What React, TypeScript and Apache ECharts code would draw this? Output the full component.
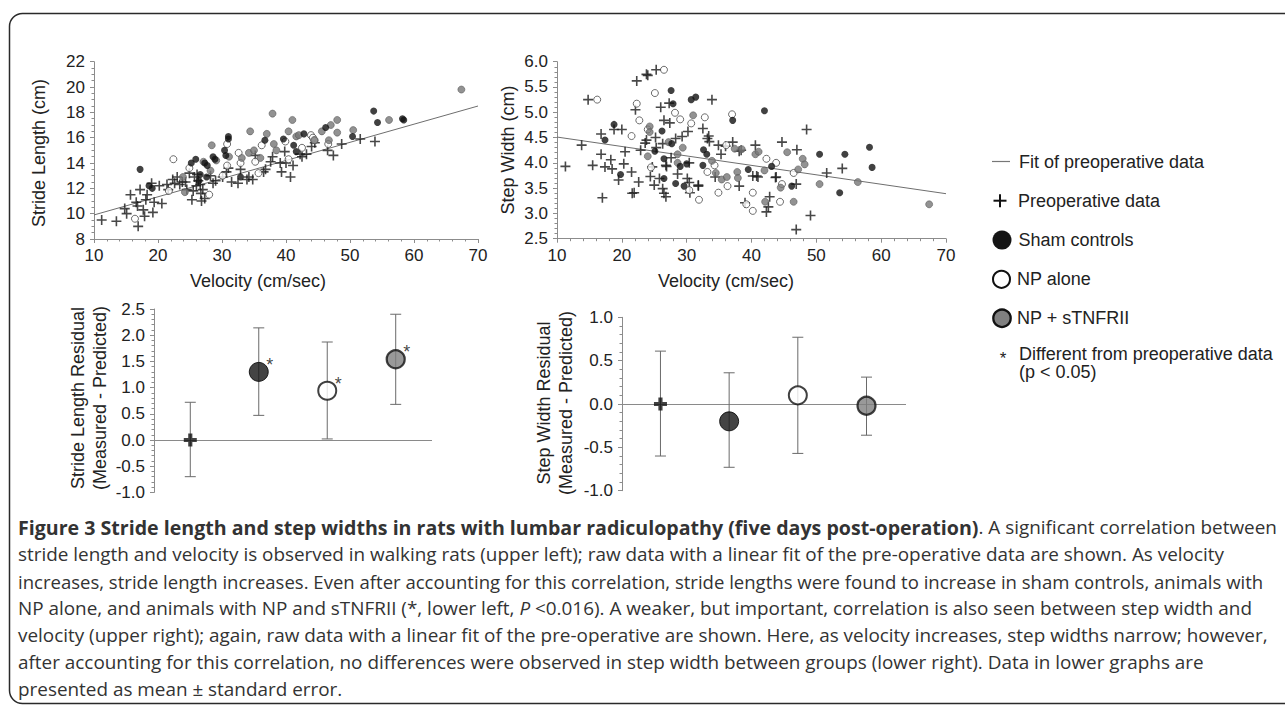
import React, { useEffect, useRef } from "react";
import * as echarts from "echarts";

// ---------- DATA ----------
// Upper left: stride length (cm) vs velocity (cm/sec)
const strideFitVelocity = [10, 70];
const strideFitValues = [9.9, 18.5];
const stridePreop: number[][] = [
  [11.2, 9.5], [13.5, 9.4], [14.8, 10.4], [15.1, 10.0], [15.7, 11.5], [16.6, 10.9], [16.8, 10.6], [16.9, 9.0],
  [17.2, 11.9], [17.7, 10.3], [17.9, 9.8], [18.1, 11.1], [18.3, 11.5], [19.0, 12.4], [19.2, 10.1], [19.4, 10.9],
  [20.2, 12.2], [20.6, 10.8], [21.4, 12.3], [21.6, 11.9], [22.3, 12.7], [22.6, 12.4], [23.0, 12.9], [23.4, 12.3],
  [23.8, 12.5], [24.3, 12.5], [24.5, 11.9], [24.9, 13.2], [25.3, 11.1], [25.5, 11.8], [25.7, 12.9], [26.0, 12.2],
  [26.1, 13.1], [26.3, 12.6], [26.6, 12.3], [26.7, 11.6], [26.8, 11.0], [27.0, 11.9], [27.3, 11.2], [28.2, 13.0],
  [28.6, 12.4], [29.0, 12.6], [30.1, 12.9], [30.7, 13.3], [31.0, 13.6], [31.5, 12.5], [32.5, 12.4], [32.9, 13.5],
  [33.9, 12.7], [34.2, 12.9], [34.8, 12.7], [35.2, 14.6], [36.5, 13.3], [36.8, 13.5], [37.6, 14.1], [37.9, 14.5],
  [39.1, 14.0], [39.3, 13.3], [39.8, 14.9], [40.0, 14.0], [40.7, 12.9], [41.1, 13.8], [42.2, 14.7], [42.5, 14.5],
  [43.2, 14.7], [44.0, 15.3], [44.5, 15.6], [46.5, 15.0], [47.4, 14.6], [48.7, 15.5], [51.6, 15.9], [53.9, 15.7],
];
const strideSham: number[][] = [
  [17.2, 13.5], [18.6, 12.2], [19.1, 12.0], [25.2, 14.0], [25.9, 14.3], [26.4, 12.6], [26.6, 13.1], [27.3, 14.0],
  [27.7, 13.8], [27.6, 12.9], [28.6, 14.5], [28.9, 14.3], [30.4, 15.0], [30.6, 14.6], [31.0, 16.1], [31.0, 15.9],
  [32.9, 12.9], [36.7, 15.8], [39.6, 15.9], [41.2, 15.4], [41.6, 14.9], [42.8, 16.3], [46.2, 16.8], [50.4, 16.1],
  [53.7, 18.1], [54.3, 17.2], [58.2, 17.5], [58.4, 17.4],
];
const strideNP: number[][] = [
  [16.4, 9.6], [21.7, 11.8], [22.4, 14.3], [24.9, 13.6], [28.0, 11.5], [30.1, 13.0], [30.8, 15.5], [30.8, 13.8],
  [32.6, 14.8], [32.9, 14.0], [35.2, 14.1], [35.7, 13.2], [36.2, 15.4], [39.9, 15.7], [40.4, 14.3], [42.5, 15.2],
  [43.9, 16.2], [44.2, 16.0], [44.4, 15.8], [46.6, 15.5],
];
const strideNPs: number[][] = [
  [23.9, 12.9], [24.2, 11.7], [27.1, 14.1], [28.2, 13.4], [28.4, 15.4], [29.1, 14.2], [31.1, 14.5], [33.1, 14.4],
  [34.4, 16.5], [34.2, 14.8], [35.0, 15.0], [36.0, 14.4], [37.0, 16.3], [37.9, 17.9], [38.1, 15.5], [38.5, 15.0],
  [40.4, 16.5], [41.0, 17.4], [41.6, 16.1], [42.0, 16.2], [44.5, 15.8], [45.6, 16.5], [46.7, 15.8], [47.0, 17.0],
  [48.0, 17.4], [48.0, 16.4], [50.5, 16.6], [56.1, 17.4], [67.4, 19.8],
];

// Upper right: step width (cm) vs velocity (cm/sec)
const widthFitValues = [4.51, 3.39];
const widthPreop: number[][] = [
  [11.3, 3.93], [13.8, 4.35], [14.8, 5.25], [15.5, 3.95], [16.8, 4.57], [16.8, 4.17], [17.0, 3.31], [17.4, 3.92],
  [18.3, 4.06], [18.5, 3.88], [18.8, 4.66], [19.5, 3.66], [20.0, 4.66], [20.3, 3.98], [20.5, 4.22], [21.5, 3.82],
  [21.6, 3.40], [21.9, 3.41], [22.1, 5.05], [22.3, 5.62], [22.6, 3.62], [22.9, 4.25], [23.6, 4.39], [23.8, 5.75],
  [23.8, 4.45], [24.0, 5.73], [24.4, 3.73], [24.7, 3.92], [25.0, 3.56], [25.2, 4.50], [25.3, 5.84], [25.3, 4.30],
  [25.8, 3.69], [26.0, 5.10], [26.3, 3.49], [26.3, 4.38], [26.5, 4.84], [26.5, 3.40], [26.8, 3.33], [26.8, 3.95],
  [26.9, 3.93], [27.3, 5.18], [27.4, 4.79], [27.6, 4.10], [28.3, 4.48], [28.6, 3.78], [29.3, 4.52], [30.1, 3.69],
  [30.2, 4.62], [30.4, 4.00], [30.4, 3.61], [30.5, 3.41], [31.8, 3.54], [31.8, 3.56], [32.5, 4.68], [33.2, 4.48],
  [33.4, 4.53], [33.5, 4.42], [33.9, 5.25], [34.4, 3.72], [34.9, 4.35], [35.3, 4.17], [36.0, 4.33], [37.1, 4.41],
  [38.1, 3.54], [38.1, 4.23], [38.4, 4.25], [39.0, 3.21], [40.2, 3.74], [40.6, 4.35], [40.8, 3.74], [41.0, 3.72],
  [42.3, 3.03], [42.6, 3.13], [42.8, 3.33], [43.7, 3.71], [43.8, 3.72], [44.7, 4.41], [46.9, 3.58], [46.9, 2.68],
  [47.0, 4.26], [48.5, 4.66], [49.1, 2.96], [51.6, 3.80], [54.0, 3.89],
];
const widthSham: number[][] = [
  [17.4, 4.45], [18.8, 4.76], [19.8, 3.77], [25.1, 4.23], [26.2, 4.63], [26.5, 4.08], [26.5, 3.69], [27.6, 5.43],
  [27.7, 4.38], [27.9, 5.17], [28.3, 3.59], [29.0, 3.93], [29.6, 3.54], [30.0, 3.98], [30.7, 5.25], [31.4, 5.30],
  [32.5, 3.95], [32.6, 4.26], [33.1, 4.17], [37.1, 4.84], [39.5, 3.87], [42.0, 5.03], [43.1, 3.93], [46.2, 3.54],
  [50.5, 4.17], [53.6, 3.41], [54.4, 4.17], [58.2, 4.31], [58.6, 3.91],
];
const widthNP: number[][] = [
  [16.2, 5.25], [21.5, 4.53], [22.3, 5.17], [22.7, 4.84], [24.0, 4.66], [24.5, 3.91], [25.1, 5.38], [26.5, 5.84],
  [28.2, 4.99], [29.0, 4.86], [30.4, 3.46], [30.7, 4.78], [31.9, 3.27], [32.8, 4.90], [33.2, 3.82], [34.3, 3.95],
  [34.9, 3.41], [36.1, 4.35], [36.3, 3.54], [37.0, 4.96], [39.2, 3.18], [40.2, 3.41], [40.2, 3.05], [42.3, 4.08],
  [43.8, 4.00], [44.4, 3.23], [44.7, 3.58], [46.5, 3.80],
];
const widthNPs: number[][] = [
  [24.3, 4.72], [24.3, 4.61], [24.0, 4.13], [27.2, 4.41], [28.6, 4.17], [28.6, 4.00], [29.4, 4.30], [31.0, 4.94],
  [33.9, 4.04], [34.5, 3.80], [35.4, 3.67], [36.2, 3.72], [37.4, 4.28], [37.8, 3.82], [37.9, 3.70], [38.5, 4.27],
  [40.6, 4.17], [41.1, 4.22], [42.0, 3.85], [42.1, 3.23], [44.5, 3.51], [45.5, 4.21], [46.5, 3.23], [47.2, 3.87],
  [47.9, 4.08], [48.2, 3.97], [50.5, 3.58], [56.4, 3.62], [67.4, 3.18],
];

// Lower panels: residuals (measured - predicted), mean with error range
const groups = ["Preoperative data", "Sham controls", "NP alone", "NP + sTNFRII"];
const strideResMean = [0, 1.3, 0.94, 1.54];
const strideResLow = [-0.7, 0.47, 0.02, 0.68];
const strideResHigh = [0.72, 2.14, 1.87, 2.4];
const strideResSignificant = [false, true, true, true];
const widthResMean = [0, -0.2, 0.1, -0.02];
const widthResLow = [-0.6, -0.73, -0.57, -0.36];
const widthResHigh = [0.61, 0.36, 0.77, 0.31];

const captionLines = [
  "stride length and velocity is observed in walking rats (upper left); raw data with a linear fit of the pre-operative data are shown. As velocity",
  "increases, stride length increases. Even after accounting for this correlation, stride lengths were found to increase in sham controls, animals with",
  "NP alone, and animals with NP and sTNFRII (*, lower left, {i|P} <0.016). A weaker, but important, correlation is also seen between step width and",
  "velocity (upper right); again, raw data with a linear fit of the pre-operative are shown. Here, as velocity increases, step widths narrow; however,",
  "after accounting for this correlation, no differences were observed in step width between groups (lower right). Data in lower graphs are",
  "presented as mean \u00b1 standard error.",
];
const captionLineSizes = [18.9, 18.55, 18.9, 18.9, 18.9, 18.9];

// ---------- STYLE ----------
const FONT = "'Liberation Sans', Arial, Helvetica, sans-serif";
const CAP_FONT = "'Open Sans', 'Noto Sans', sans-serif";
const AXIS_COLOR = "#8c8c8c";
const TEXT_COLOR = "#222";
const PLUS_THIN = "path://M4.2,0H5.8V4.2H10V5.8H5.8V10H4.2V5.8H0V4.2H4.2Z";
const PLUS_THICK = "path://M3.4,0H6.6V3.4H10V6.6H6.6V10H3.4V6.6H0V3.4H3.4Z";
const CAP_SIZE = 18.9;

const markerStyles = [
  { symbol: PLUS_THICK, symbolSize: 13, itemStyle: { color: "#111" } },
  { symbol: "circle", symbolSize: 19, itemStyle: { color: "#151515", borderColor: "#000", borderWidth: 1 } },
  { symbol: "circle", symbolSize: 18, itemStyle: { color: "#fff", borderColor: "#111", borderWidth: 2 } },
  { symbol: "circle", symbolSize: 18, itemStyle: { color: "#808080", borderColor: "#111", borderWidth: 2.2 } },
];

function valueAxis(grid: number, min: number, max: number, interval: number, minorSplit: number, digits: number, isX: boolean) {
  return {
    gridIndex: grid,
    type: "value",
    min,
    max,
    interval,
    axisLine: { show: true, onZero: false, lineStyle: { color: AXIS_COLOR, width: 1 } },
    axisTick: { show: true, length: 4, lineStyle: { color: AXIS_COLOR } },
    minorTick: { show: true, splitNumber: minorSplit, length: 2.5, lineStyle: { color: AXIS_COLOR } },
    splitLine: { show: false },
    axisLabel: {
      color: TEXT_COLOR,
      fontSize: 17,
      fontFamily: FONT,
      margin: isX ? 8 : 9,
      formatter: (v: number) => v.toFixed(digits),
    },
  };
}

function hiddenX(grid: number, min: number, max: number) {
  return { gridIndex: grid, type: "value", min, max, show: false, splitLine: { show: false } };
}

function scatterSeries(idx: number, data: number[][], kind: number) {
  const base: any = { type: "scatter", xAxisIndex: idx, yAxisIndex: idx, data, z: 3 };
  if (kind === 0) return { ...base, symbol: PLUS_THIN, symbolSize: 10, itemStyle: { color: "#1a1a1a" } };
  if (kind === 1) return { ...base, symbol: "circle", symbolSize: 7, itemStyle: { color: "#111" } };
  if (kind === 2)
    return { ...base, symbol: "circle", symbolSize: 7, itemStyle: { color: "#fff", borderColor: "#333", borderWidth: 0.9 } };
  return { ...base, symbol: "circle", symbolSize: 7, itemStyle: { color: "#777", borderColor: "#555", borderWidth: 0.7 } };
}

function fitSeries(idx: number, values: number[]) {
  return {
    type: "line",
    xAxisIndex: idx,
    yAxisIndex: idx,
    data: strideFitVelocity.map((v, i) => [v, values[i]]),
    symbol: "none",
    lineStyle: { color: "#6e6e6e", width: 1 },
    z: 2,
  };
}

function errorSeries(idx: number, low: number[], high: number[]) {
  return {
    type: "custom",
    xAxisIndex: idx,
    yAxisIndex: idx,
    z: 2,
    data: groups.map((_, i) => [i + 1, low[i], high[i]]),
    encode: { x: 0, y: [1, 2] },
    renderItem: (_params: any, api: any) => {
      const x = api.value(0);
      const lo = api.coord([x, api.value(1)]);
      const hi = api.coord([x, api.value(2)]);
      const w = 5.5;
      const style = { stroke: "#6a6a6a", lineWidth: 1 };
      return {
        type: "group",
        children: [
          { type: "line", shape: { x1: hi[0], y1: hi[1], x2: lo[0], y2: lo[1] }, style },
          { type: "line", shape: { x1: hi[0] - w, y1: hi[1], x2: hi[0] + w, y2: hi[1] }, style },
          { type: "line", shape: { x1: lo[0] - w, y1: lo[1], x2: lo[0] + w, y2: lo[1] }, style },
        ],
      };
    },
  };
}

function meanSeries(idx: number, means: number[], signif: boolean[] | null) {
  return {
    type: "scatter",
    xAxisIndex: idx,
    yAxisIndex: idx,
    z: 4,
    data: groups.map((g, i) => ({
      name: g,
      value: [i + 1, means[i]],
      ...markerStyles[i],
      label: signif && signif[i]
        ? { show: true, formatter: "*", position: "inside", offset: [11, -7], color: "#111", fontSize: 18, fontFamily: FONT }
        : { show: false },
    })),
    markLine: {
      silent: true,
      symbol: "none",
      label: { show: false },
      lineStyle: { color: "#8a8a8a", width: 1, type: "solid" },
      data: [{ yAxis: 0 }],
      z: 1,
    },
  };
}

function txt(x: number, y: number, text: string, opts: any = {}) {
  return {
    type: "text",
    x,
    y,
    rotation: opts.rotation || 0,
    style: {
      text,
      fill: opts.fill || TEXT_COLOR,
      font: opts.font || `18px ${FONT}`,
      textAlign: opts.align || "left",
      textVerticalAlign: "middle",
    },
  };
}

export default function App() {
  const ref = useRef<HTMLDivElement>(null);

  useEffect(() => {
    if (!ref.current) return;
    const chart = echarts.init(ref.current, undefined, { renderer: "svg" });
    const R = Math.PI / 2;
    const titleFont = `18px ${FONT}`;
    const capRich = (size: number) => ({
      b: { fontFamily: CAP_FONT, fontWeight: "bold", fontSize: 19.6, color: "#1b1b1b" },
      i: { fontFamily: CAP_FONT, fontStyle: "italic", fontSize: size, color: "#333" },
    });
    const capStart = 18;
    const capY0 = 527;
    const capStep = 27;

    const option: any = {
      animation: false,
      backgroundColor: "#fff",
      grid: [
        { left: 94, top: 61.7, width: 384, height: 177.3 },
        { left: 557, top: 61.7, width: 389, height: 177 },
        { left: 154, top: 309, width: 278, height: 183.4 },
        { left: 622, top: 317.3, width: 284, height: 173.4 },
      ],
      xAxis: [
        valueAxis(0, 10, 70, 10, 5, 0, true),
        valueAxis(1, 10, 70, 10, 5, 0, true),
        hiddenX(2, 0.47, 4.53),
        hiddenX(3, 0.44, 4.575),
      ],
      yAxis: [
        valueAxis(0, 8, 22, 2, 4, 0, false),
        valueAxis(1, 2.5, 6, 0.5, 5, 1, false),
        valueAxis(2, -1, 2.5, 0.5, 5, 1, false),
        valueAxis(3, -1, 1, 0.5, 5, 1, false),
      ],
      series: [
        fitSeries(0, strideFitValues),
        scatterSeries(0, stridePreop, 0),
        scatterSeries(0, strideNP, 2),
        scatterSeries(0, strideNPs, 3),
        scatterSeries(0, strideSham, 1),
        fitSeries(1, widthFitValues),
        scatterSeries(1, widthPreop, 0),
        scatterSeries(1, widthNP, 2),
        scatterSeries(1, widthNPs, 3),
        scatterSeries(1, widthSham, 1),
        errorSeries(2, strideResLow, strideResHigh),
        meanSeries(2, strideResMean, strideResSignificant),
        errorSeries(3, widthResLow, widthResHigh),
        meanSeries(3, widthResMean, null),
      ],
      graphic: [
        // frame
        {
          type: "rect",
          shape: { x: 9.5, y: 13.5, width: 1310, height: 690, r: 13 },
          style: { fill: "none", stroke: "#2a2a2a", lineWidth: 1.5 },
          z: -1,
        },
        // axis titles
        txt(38.5, 153, "Stride Length (cm)", { rotation: R, align: "center", font: titleFont }),
        txt(258, 281, "Velocity (cm/sec)", { align: "center", font: titleFont }),
        txt(508, 150, "Step Width (cm)", { rotation: R, align: "center", font: titleFont }),
        txt(726, 281, "Velocity (cm/sec)", { align: "center", font: titleFont }),
        txt(78, 398, "Stride Length Residual", { rotation: R, align: "center", font: titleFont }),
        txt(100, 398, "(Measured - Predicted)", { rotation: R, align: "center", font: titleFont }),
        txt(544, 403, "Step Width Residual", { rotation: R, align: "center", font: titleFont }),
        txt(566, 403, "(Measured - Predicted)", { rotation: R, align: "center", font: titleFont }),
        // legend
        { type: "line", shape: { x1: 992, y1: 161.5, x2: 1010, y2: 161.5 }, style: { stroke: "#777", lineWidth: 1.2 } },
        txt(1019, 161.5, "Fit of preoperative data"),
        { type: "rect", shape: { x: 993.5, y: 199.7, width: 13, height: 2 }, style: { fill: "#111" } },
        { type: "rect", shape: { x: 999, y: 194.2, width: 2, height: 13 }, style: { fill: "#111" } },
        txt(1018, 200.7, "Preoperative data"),
        { type: "circle", shape: { cx: 1002, cy: 240, r: 9.5 }, style: { fill: "#151515" } },
        txt(1018.5, 240, "Sham controls"),
        { type: "circle", shape: { cx: 1001.5, cy: 279.3, r: 8.5 }, style: { fill: "#fff", stroke: "#111", lineWidth: 2 } },
        txt(1017, 279.3, "NP alone"),
        { type: "circle", shape: { cx: 1002, cy: 318.3, r: 8.7 }, style: { fill: "#808080", stroke: "#111", lineWidth: 2.3 } },
        txt(1017, 318.3, "NP + sTNFRII"),
        txt(1003, 358, "*", { align: "center", font: `17px ${FONT}` }),
        txt(1019, 354, "Different from preoperative data"),
        txt(1019, 372, "(p < 0.05)"),
        // caption
        {
          type: "text",
          x: capStart,
          y: capY0,
          style: {
            text: "{b|Figure 3 Stride length and step widths in rats with lumbar radiculopathy (five days post-operation)}. A significant correlation between",
            font: `${CAP_SIZE}px ${CAP_FONT}`,
            fill: "#333",
            textVerticalAlign: "middle",
            rich: capRich(CAP_SIZE),
          },
        },
        ...captionLines.map((line, i) => ({
          type: "text",
          x: capStart,
          y: capY0 + capStep * (i + 1),
          style: {
            text: line,
            font: `${captionLineSizes[i]}px ${CAP_FONT}`,
            fill: "#333",
            textVerticalAlign: "middle",
            rich: capRich(captionLineSizes[i]),
          },
        })),
      ],
    };

    chart.setOption(option);
    return () => chart.dispose();
  }, []);

  return (
    <div
      ref={ref}
      style={{ position: "absolute", left: 0, top: 0, width: 1285, height: 707, background: "#fff" }}
    />
  );
}
